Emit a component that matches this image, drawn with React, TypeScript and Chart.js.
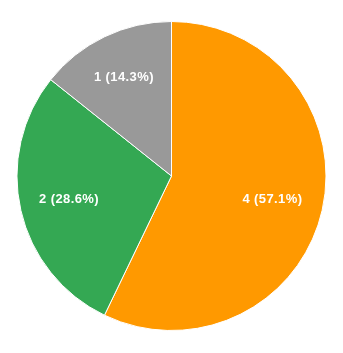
import React, { useEffect, useRef } from "react";
import { Chart, registerables } from "chart.js";

Chart.register(...registerables);

const categories = ["4", "2", "1"];
const values = [4, 2, 1];
const colors = ["#ff9900", "#34a853", "#999999"];
const labelRadiusFractions = [0.67, 0.68, 0.71];

const labelPlugin = {
  id: "sliceLabels",
  afterDatasetsDraw(chart: any) {
    const ctx = chart.ctx;
    const meta = chart.getDatasetMeta(0);
    const total = values.reduce((a, b) => a + b, 0);
    ctx.save();
    ctx.fillStyle = "#ffffff";
    ctx.font = "bold 13px 'Liberation Sans', Arial, sans-serif";
    try { (ctx as any).letterSpacing = "0.4px"; } catch (e) {}
    ctx.textAlign = "center";
    ctx.textBaseline = "middle";
    meta.data.forEach((arc: any, i: number) => {
      const p = arc.getProps(["x", "y", "startAngle", "endAngle", "outerRadius"], true);
      const mid = (p.startAngle + p.endAngle) / 2;
      const r = p.outerRadius * labelRadiusFractions[i];
      const x = p.x + Math.cos(mid) * r;
      const y = p.y + Math.sin(mid) * r;
      const pct = ((values[i] / total) * 100).toFixed(1);
      ctx.fillText(`${categories[i]} (${pct}%)`, x, y);
    });
    ctx.restore();
  },
};

export default function App() {
  const ref = useRef<HTMLCanvasElement>(null);
  useEffect(() => {
    const chart = new Chart(ref.current!, {
      type: "pie",
      data: {
        labels: categories,
        datasets: [
          {
            data: values,
            backgroundColor: colors,
            borderColor: "#ffffff",
            borderWidth: 1,
          },
        ],
      },
      options: {
        responsive: false,
        animation: false,
        layout: { padding: { left: 16.5, right: 16.5, top: 21, bottom: 22 } },
        plugins: { legend: { display: false }, tooltip: { enabled: false } },
      },
      plugins: [labelPlugin],
    });
    return () => chart.destroy();
  }, []);
  return (
    <div style={{ position: "fixed", left: 0, top: 0, width: 343, height: 353, background: "#fff" }}>
      <canvas ref={ref} width={343} height={353} style={{ width: 343, height: 353 }} />
    </div>
  );
}
